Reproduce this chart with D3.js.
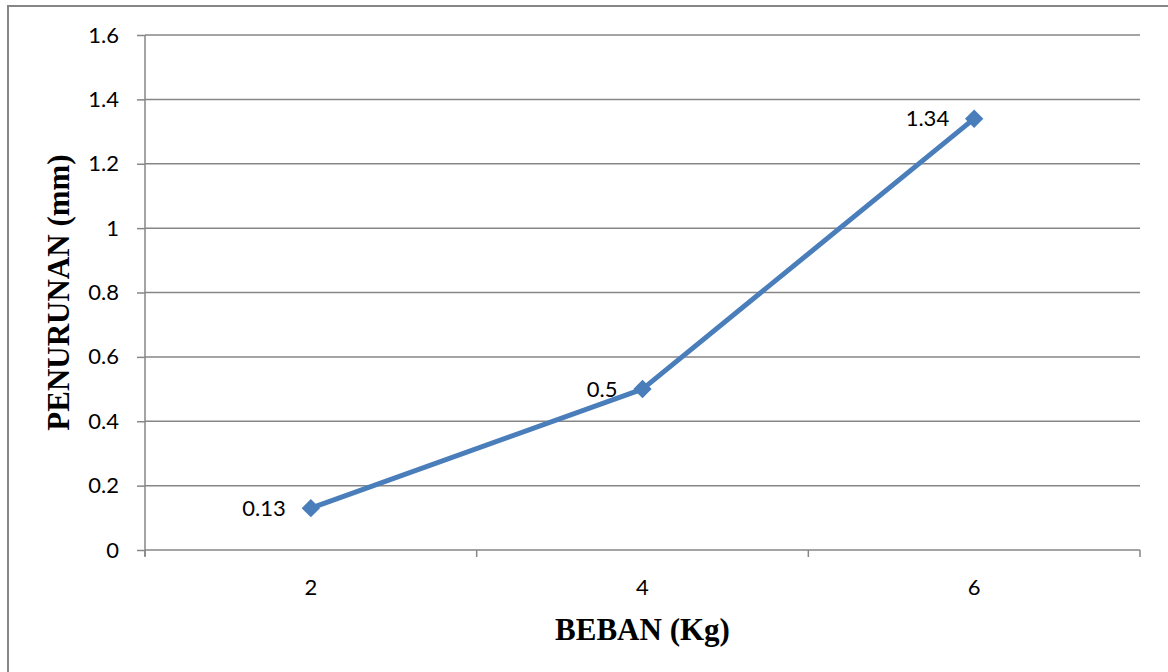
<!DOCTYPE html>
<html>
<head>
<meta charset="utf-8">
<script src="https://cdn.jsdelivr.net/npm/d3@7"></script>
<style>
  html, body { margin: 0; padding: 0; background: #fff; }
  svg { display: block; }
</style>
</head>
<body>
<svg id="chart" width="1168" height="672"></svg>
<script>
// Load (kg) against settlement (mm)
const categories = ["2", "4", "6"];
const values = [0.13, 0.5, 1.34];
const valueLabels = ["0.13", "0.5", "1.34"];
const yTicks = [0, 0.2, 0.4, 0.6, 0.8, 1, 1.2, 1.4, 1.6];
const yTickLabels = ["0", "0.2", "0.4", "0.6", "0.8", "1", "1.2", "1.4", "1.6"];

const svg = d3.select("#chart");
const W = 1168, H = 672;
const m = { left: 145, right: 28, top: 35, bottom: 122 };
const plotW = W - m.left - m.right;
const plotH = H - m.top - m.bottom;
const gridColor = "#868686";
const lineColor = "#4a7ebb";
const tickFont = "Lato, 'Open Sans', sans-serif";
const tickSize = 22;
const titleFont = "'Liberation Serif', 'Times New Roman', serif";

// outer chart border
svg.append("rect")
  .attr("x", 8).attr("y", 6)
  .attr("width", W + 10).attr("height", H + 10)
  .attr("fill", "none").attr("stroke", gridColor).attr("stroke-width", 2);

const x = d3.scaleBand().domain(categories).range([0, plotW]);
const y = d3.scaleLinear().domain([0, 1.6]).range([plotH, 0]);

const g = svg.append("g").attr("transform", `translate(${m.left},${m.top})`);

// horizontal gridlines
g.append("g").selectAll("line").data(yTicks.filter(d => d > 0)).join("line")
  .attr("x1", 0).attr("x2", plotW)
  .attr("y1", d => y(d)).attr("y2", d => y(d))
  .attr("stroke", gridColor).attr("stroke-width", 1.5);

// y axis
const yAxis = d3.axisLeft(y).tickValues(yTicks)
  .tickFormat((d, i) => yTickLabels[i]).tickSize(8).tickPadding(18);
const ya = g.append("g").call(yAxis);
ya.select(".domain").attr("stroke", gridColor).attr("stroke-width", 1.5)
  .attr("d", `M0,${plotH + 6}V0`);
ya.selectAll(".tick line").attr("stroke", gridColor).attr("stroke-width", 1.5);
ya.selectAll(".tick text").attr("font-family", tickFont).attr("font-size", tickSize).attr("fill", "#000");

// x axis: category labels at band centres, tick marks at band edges
const xa = g.append("g").attr("transform", `translate(0,${plotH})`);
xa.append("line").attr("x1", 0).attr("x2", plotW).attr("y1", 0).attr("y2", 0)
  .attr("stroke", gridColor).attr("stroke-width", 1.5);
const edges = categories.map(c => x(c)).concat([plotW]);
xa.selectAll("line.edge").data(edges).join("line").attr("class", "edge")
  .attr("x1", d => d).attr("x2", d => d).attr("y1", 0).attr("y2", 7)
  .attr("stroke", gridColor).attr("stroke-width", 1.5);
xa.selectAll("text").data(categories).join("text")
  .attr("x", d => x(d) + x.bandwidth() / 2).attr("y", 45)
  .attr("text-anchor", "middle")
  .attr("font-family", tickFont).attr("font-size", tickSize).attr("fill", "#000")
  .text(d => d);

// series line
const pts = categories.map((c, i) => [x(c) + x.bandwidth() / 2, y(values[i])]);
g.append("path").datum(pts)
  .attr("d", d3.line())
  .attr("fill", "none").attr("stroke", lineColor).attr("stroke-width", 5)
  .attr("stroke-linejoin", "round");

// diamond markers
g.selectAll("path.marker").data(pts).join("path").attr("class", "marker")
  .attr("transform", d => `translate(${d[0]},${d[1]}) rotate(45)`)
  .attr("d", "M-6.5,-6.5H6.5V6.5H-6.5Z")
  .attr("fill", lineColor);

// data labels, left of each point
g.selectAll("text.lbl").data(pts).join("text").attr("class", "lbl")
  .attr("x", d => d[0] - 25).attr("y", d => d[1])
  .attr("dy", "0.35em").attr("text-anchor", "end")
  .attr("font-family", tickFont).attr("font-size", tickSize).attr("fill", "#000")
  .text((d, i) => valueLabels[i]);

// axis titles
svg.append("text")
  .attr("x", m.left + plotW / 2).attr("y", 640)
  .attr("text-anchor", "middle")
  .attr("font-family", titleFont).attr("font-weight", "bold").attr("font-size", 31)
  .text("BEBAN (Kg)");

svg.append("text")
  .attr("transform", `translate(69,${m.top + plotH / 2}) rotate(-90)`)
  .attr("text-anchor", "middle")
  .attr("font-family", titleFont).attr("font-weight", "bold").attr("font-size", 31)
  .text("PENURUNAN (mm)");
</script>
</body>
</html>
